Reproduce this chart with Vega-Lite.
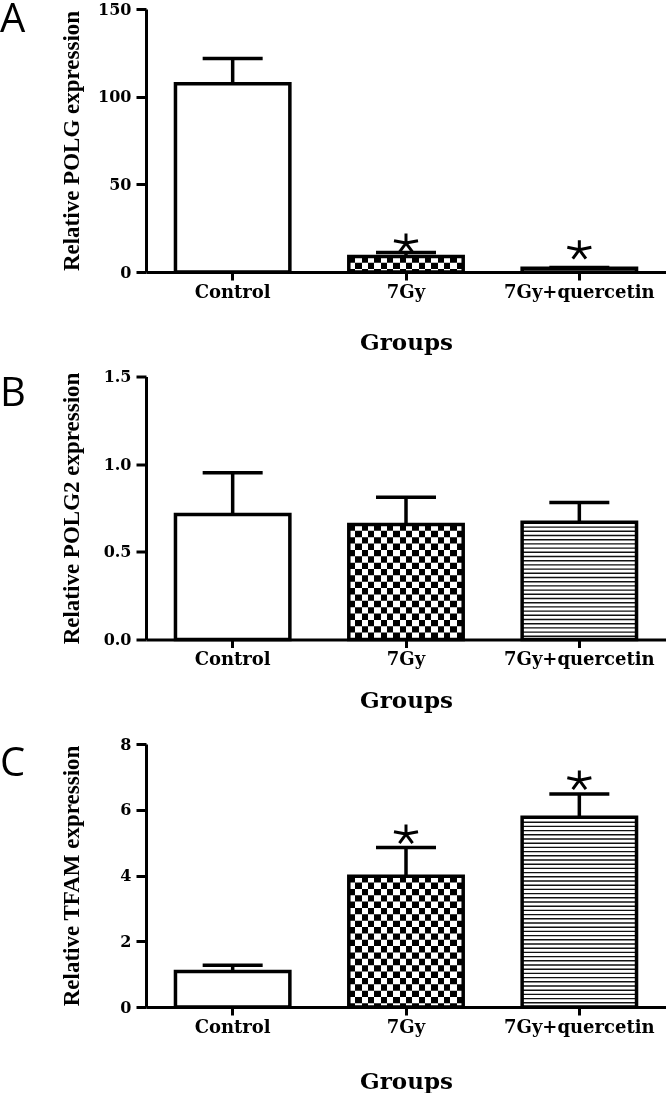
{
"$schema": "https://vega.github.io/schema/vega-lite/v6.json",
"padding": 0,
"background": "white",
"config": {
 "view": {"stroke": null},
 "axis": {"domainColor": "black", "domainWidth": 3, "tickColor": "black", "tickWidth": 3, "labelColor": "black", "titleColor": "black", "grid": false, "labelFont": "DejaVu Serif", "labelFontWeight": "bold"},
 "axisX": {"labelFontSize": 18, "tickSize": 8, "labelAngle": 0, "labelBaseline": "alphabetic", "labelPadding": 17, "titleFont": "DejaVu Serif", "titleFontWeight": "bold", "titleFontSize": 23, "titleBaseline": "alphabetic"},
 "axisY": {"labelFontSize": 16, "tickSize": 10, "labelPadding": 5, "titleFont": "Liberation Serif", "titleFontWeight": "bold", "titleFontSize": 23, "titleX": -68, "titleY": 131.5, "titleAngle": -90, "titleAlign": "center", "titleBaseline": "alphabetic"}
},
"data": {"values": [
 {"panel": "A", "group": "Control", "value": 107.4, "upper": 121.7, "star": null},
 {"panel": "A", "group": "7Gy", "value": 8.9, "upper": 11.1, "star": 16.5},
 {"panel": "A", "group": "7Gy+quercetin", "value": 2.1, "upper": 2.6, "star": 12.7},
 {"panel": "B", "group": "Control", "value": 0.713, "upper": 0.951, "star": null},
 {"panel": "B", "group": "7Gy", "value": 0.656, "upper": 0.812, "star": null},
 {"panel": "B", "group": "7Gy+quercetin", "value": 0.669, "upper": 0.781, "star": null},
 {"panel": "C", "group": "Control", "value": 1.08, "upper": 1.27, "star": null},
 {"panel": "C", "group": "7Gy", "value": 3.98, "upper": 4.85, "star": 5.26},
 {"panel": "C", "group": "7Gy+quercetin", "value": 5.77, "upper": 6.48, "star": 6.9}
]},
"bounds": "flush",
"spacing": 104.5,
"vconcat": [
  {
   "width": 520, "height": 263,
   "transform": [{"filter": "datum.panel === 'A'"}],
   "title": {"text": "A", "anchor": "start", "frame": "group", "orient": "top", "font": "Open Sans", "fontSize": 40, "fontWeight": "normal", "color": "black", "baseline": "alphabetic", "offset": 0, "dx": -146, "dy": 71},
   "encoding": {"x": {"field": "group", "type": "nominal", "sort": ["Control", "7Gy", "7Gy+quercetin"], "scale": {"paddingInner": 0.34, "paddingOuter": 0.17}, "axis": {"title": "Groups", "titleY": 77}}},
   "layer": [
    {"mark": {"type": "bar", "fill": "white", "strokeWidth": 0}, "encoding": {"y": {"field": "value", "type": "quantitative", "scale": {"domain": [0, 150], "nice": false}, "axis": {"title": "Relative POLG expression", "values": [0, 50, 100, 150]}}}},
    {"transform": [{"filter": "datum.group === '7Gy'"}], "mark": {"type": "bar", "strokeWidth": 0, "fill": {"gradient": "linear", "x1": 0, "y1": 0, "x2": 1, "y2": 0, "stops": [{"offset":0,"color":"#fff"},{"offset":0.0556,"color":"#fff"},{"offset":0.0556,"color":"#000"},{"offset":0.1111,"color":"#000"},{"offset":0.1111,"color":"#fff"},{"offset":0.1667,"color":"#fff"},{"offset":0.1667,"color":"#000"},{"offset":0.2222,"color":"#000"},{"offset":0.2222,"color":"#fff"},{"offset":0.2778,"color":"#fff"},{"offset":0.2778,"color":"#000"},{"offset":0.3333,"color":"#000"},{"offset":0.3333,"color":"#fff"},{"offset":0.3889,"color":"#fff"},{"offset":0.3889,"color":"#000"},{"offset":0.4444,"color":"#000"},{"offset":0.4444,"color":"#fff"},{"offset":0.5,"color":"#fff"},{"offset":0.5,"color":"#000"},{"offset":0.5556,"color":"#000"},{"offset":0.5556,"color":"#fff"},{"offset":0.6111,"color":"#fff"},{"offset":0.6111,"color":"#000"},{"offset":0.6667,"color":"#000"},{"offset":0.6667,"color":"#fff"},{"offset":0.7222,"color":"#fff"},{"offset":0.7222,"color":"#000"},{"offset":0.7778,"color":"#000"},{"offset":0.7778,"color":"#fff"},{"offset":0.8333,"color":"#fff"},{"offset":0.8333,"color":"#000"},{"offset":0.8889,"color":"#000"},{"offset":0.8889,"color":"#fff"},{"offset":0.9444,"color":"#fff"},{"offset":0.9444,"color":"#000"},{"offset":1,"color":"#000"}]}}, "encoding": {"y": {"field": "value", "type": "quantitative", "scale": {"domain": [0, 150], "nice": false}, "axis": {"title": "Relative POLG expression", "values": [0, 50, 100, 150]}}}},
    {"transform": [{"filter": "datum.group === '7Gy'"}], "mark": {"type": "rule", "color": "white", "strokeWidth": 114.4, "strokeDash": [6.36, 6.36], "blend": "difference"}, "encoding": {"y": {"field": "value", "type": "quantitative", "scale": {"domain": [0, 150], "nice": false}, "axis": {"title": "Relative POLG expression", "values": [0, 50, 100, 150]}}, "y2": {"datum": 0}}},
    {"transform": [{"filter": "datum.group === '7Gy+quercetin'"}], "mark": {"type": "rule", "color": "#111", "strokeWidth": 114.4, "strokeDash": [1.4, 2.8]}, "encoding": {"y": {"field": "value", "type": "quantitative", "scale": {"domain": [0, 150], "nice": false}, "axis": {"title": "Relative POLG expression", "values": [0, 50, 100, 150]}}, "y2": {"datum": 0}}},
    {"mark": {"type": "bar", "filled": false, "color": "black", "strokeWidth": 3.5}, "encoding": {"y": {"field": "value", "type": "quantitative", "scale": {"domain": [0, 150], "nice": false}, "axis": {"title": "Relative POLG expression", "values": [0, 50, 100, 150]}}}},
    {"mark": {"type": "rule", "color": "black", "strokeWidth": 3.5}, "encoding": {"y": {"field": "value", "type": "quantitative", "scale": {"domain": [0, 150], "nice": false}, "axis": {"title": "Relative POLG expression", "values": [0, 50, 100, 150]}}, "y2": {"field": "upper"}}},
    {"mark": {"type": "tick", "orient": "horizontal", "color": "black", "opacity": 1, "size": 60, "thickness": 3.5}, "encoding": {"y": {"field": "upper", "type": "quantitative", "scale": {"domain": [0, 150], "nice": false}, "axis": {"title": "Relative POLG expression", "values": [0, 50, 100, 150]}}}},
    {"mark": {"type": "point", "shape": "M0,0L0,-0.8M0,0L1,-0.2M0,0L-1,-0.2M0,0L0.55,0.75M0,0L-0.55,0.75", "filled": false, "color": "black", "strokeWidth": 3, "size": 576, "opacity": 1}, "encoding": {"y": {"field": "star", "type": "quantitative", "scale": {"domain": [0, 150], "nice": false}, "axis": {"title": "Relative POLG expression", "values": [0, 50, 100, 150]}}}}
   ]
  },
  {
   "width": 520, "height": 263,
   "transform": [{"filter": "datum.panel === 'B'"}],
   "title": {"text": "B", "anchor": "start", "frame": "group", "orient": "top", "font": "Open Sans", "fontSize": 40, "fontWeight": "normal", "color": "black", "baseline": "alphabetic", "offset": 0, "dx": -146, "dy": 77},
   "encoding": {"x": {"field": "group", "type": "nominal", "sort": ["Control", "7Gy", "7Gy+quercetin"], "scale": {"paddingInner": 0.34, "paddingOuter": 0.17}, "axis": {"title": "Groups", "titleY": 68}}},
   "layer": [
    {"mark": {"type": "bar", "fill": "white", "strokeWidth": 0}, "encoding": {"y": {"field": "value", "type": "quantitative", "scale": {"domain": [0, 1.5], "nice": false}, "axis": {"title": "Relative POLG2 expression", "values": [0, 0.5, 1, 1.5], "format": ".1f"}}}},
    {"transform": [{"filter": "datum.group === '7Gy'"}], "mark": {"type": "bar", "strokeWidth": 0, "fill": {"gradient": "linear", "x1": 0, "y1": 0, "x2": 1, "y2": 0, "stops": [{"offset":0,"color":"#fff"},{"offset":0.0556,"color":"#fff"},{"offset":0.0556,"color":"#000"},{"offset":0.1111,"color":"#000"},{"offset":0.1111,"color":"#fff"},{"offset":0.1667,"color":"#fff"},{"offset":0.1667,"color":"#000"},{"offset":0.2222,"color":"#000"},{"offset":0.2222,"color":"#fff"},{"offset":0.2778,"color":"#fff"},{"offset":0.2778,"color":"#000"},{"offset":0.3333,"color":"#000"},{"offset":0.3333,"color":"#fff"},{"offset":0.3889,"color":"#fff"},{"offset":0.3889,"color":"#000"},{"offset":0.4444,"color":"#000"},{"offset":0.4444,"color":"#fff"},{"offset":0.5,"color":"#fff"},{"offset":0.5,"color":"#000"},{"offset":0.5556,"color":"#000"},{"offset":0.5556,"color":"#fff"},{"offset":0.6111,"color":"#fff"},{"offset":0.6111,"color":"#000"},{"offset":0.6667,"color":"#000"},{"offset":0.6667,"color":"#fff"},{"offset":0.7222,"color":"#fff"},{"offset":0.7222,"color":"#000"},{"offset":0.7778,"color":"#000"},{"offset":0.7778,"color":"#fff"},{"offset":0.8333,"color":"#fff"},{"offset":0.8333,"color":"#000"},{"offset":0.8889,"color":"#000"},{"offset":0.8889,"color":"#fff"},{"offset":0.9444,"color":"#fff"},{"offset":0.9444,"color":"#000"},{"offset":1,"color":"#000"}]}}, "encoding": {"y": {"field": "value", "type": "quantitative", "scale": {"domain": [0, 1.5], "nice": false}, "axis": {"title": "Relative POLG2 expression", "values": [0, 0.5, 1, 1.5], "format": ".1f"}}}},
    {"transform": [{"filter": "datum.group === '7Gy'"}], "mark": {"type": "rule", "color": "white", "strokeWidth": 114.4, "strokeDash": [6.36, 6.36], "blend": "difference"}, "encoding": {"y": {"field": "value", "type": "quantitative", "scale": {"domain": [0, 1.5], "nice": false}, "axis": {"title": "Relative POLG2 expression", "values": [0, 0.5, 1, 1.5], "format": ".1f"}}, "y2": {"datum": 0}}},
    {"transform": [{"filter": "datum.group === '7Gy+quercetin'"}], "mark": {"type": "rule", "color": "#111", "strokeWidth": 114.4, "strokeDash": [1.4, 2.8]}, "encoding": {"y": {"field": "value", "type": "quantitative", "scale": {"domain": [0, 1.5], "nice": false}, "axis": {"title": "Relative POLG2 expression", "values": [0, 0.5, 1, 1.5], "format": ".1f"}}, "y2": {"datum": 0}}},
    {"mark": {"type": "bar", "filled": false, "color": "black", "strokeWidth": 3.5}, "encoding": {"y": {"field": "value", "type": "quantitative", "scale": {"domain": [0, 1.5], "nice": false}, "axis": {"title": "Relative POLG2 expression", "values": [0, 0.5, 1, 1.5], "format": ".1f"}}}},
    {"mark": {"type": "rule", "color": "black", "strokeWidth": 3.5}, "encoding": {"y": {"field": "value", "type": "quantitative", "scale": {"domain": [0, 1.5], "nice": false}, "axis": {"title": "Relative POLG2 expression", "values": [0, 0.5, 1, 1.5], "format": ".1f"}}, "y2": {"field": "upper"}}},
    {"mark": {"type": "tick", "orient": "horizontal", "color": "black", "opacity": 1, "size": 60, "thickness": 3.5}, "encoding": {"y": {"field": "upper", "type": "quantitative", "scale": {"domain": [0, 1.5], "nice": false}, "axis": {"title": "Relative POLG2 expression", "values": [0, 0.5, 1, 1.5], "format": ".1f"}}}}
   ]
  },
 {
  "width": 520, "height": 263,
  "transform": [{"filter": "datum.panel === 'C'"}],
  "title": {"text": "C", "anchor": "start", "frame": "group", "orient": "top", "font": "Open Sans", "fontSize": 40, "fontWeight": "normal", "color": "black", "baseline": "alphabetic", "offset": 0, "dx": -146, "dy": 80},
  "encoding": {"x": {"field": "group", "type": "nominal", "sort": ["Control", "7Gy", "7Gy+quercetin"], "scale": {"paddingInner": 0.34, "paddingOuter": 0.17}, "axis": {"title": "Groups", "titleY": 81}}},
  "layer": [
   {"mark": {"type": "bar", "fill": "white", "strokeWidth": 0}, "encoding": {"y": {"field": "value", "type": "quantitative", "scale": {"domain": [0, 8], "nice": false}, "axis": {"title": "Relative TFAM expression", "values": [0, 2, 4, 6, 8]}}}},
   {"transform": [{"filter": "datum.group === '7Gy'"}], "mark": {"type": "bar", "strokeWidth": 0, "fill": {"gradient": "linear", "x1": 0, "y1": 0, "x2": 1, "y2": 0, "stops": [{"offset":0,"color":"#fff"},{"offset":0.0556,"color":"#fff"},{"offset":0.0556,"color":"#000"},{"offset":0.1111,"color":"#000"},{"offset":0.1111,"color":"#fff"},{"offset":0.1667,"color":"#fff"},{"offset":0.1667,"color":"#000"},{"offset":0.2222,"color":"#000"},{"offset":0.2222,"color":"#fff"},{"offset":0.2778,"color":"#fff"},{"offset":0.2778,"color":"#000"},{"offset":0.3333,"color":"#000"},{"offset":0.3333,"color":"#fff"},{"offset":0.3889,"color":"#fff"},{"offset":0.3889,"color":"#000"},{"offset":0.4444,"color":"#000"},{"offset":0.4444,"color":"#fff"},{"offset":0.5,"color":"#fff"},{"offset":0.5,"color":"#000"},{"offset":0.5556,"color":"#000"},{"offset":0.5556,"color":"#fff"},{"offset":0.6111,"color":"#fff"},{"offset":0.6111,"color":"#000"},{"offset":0.6667,"color":"#000"},{"offset":0.6667,"color":"#fff"},{"offset":0.7222,"color":"#fff"},{"offset":0.7222,"color":"#000"},{"offset":0.7778,"color":"#000"},{"offset":0.7778,"color":"#fff"},{"offset":0.8333,"color":"#fff"},{"offset":0.8333,"color":"#000"},{"offset":0.8889,"color":"#000"},{"offset":0.8889,"color":"#fff"},{"offset":0.9444,"color":"#fff"},{"offset":0.9444,"color":"#000"},{"offset":1,"color":"#000"}]}}, "encoding": {"y": {"field": "value", "type": "quantitative", "scale": {"domain": [0, 8], "nice": false}, "axis": {"title": "Relative TFAM expression", "values": [0, 2, 4, 6, 8]}}}},
   {"transform": [{"filter": "datum.group === '7Gy'"}], "mark": {"type": "rule", "color": "white", "strokeWidth": 114.4, "strokeDash": [6.36, 6.36], "blend": "difference"}, "encoding": {"y": {"field": "value", "type": "quantitative", "scale": {"domain": [0, 8], "nice": false}, "axis": {"title": "Relative TFAM expression", "values": [0, 2, 4, 6, 8]}}, "y2": {"datum": 0}}},
   {"transform": [{"filter": "datum.group === '7Gy+quercetin'"}], "mark": {"type": "rule", "color": "#111", "strokeWidth": 114.4, "strokeDash": [1.4, 2.8]}, "encoding": {"y": {"field": "value", "type": "quantitative", "scale": {"domain": [0, 8], "nice": false}, "axis": {"title": "Relative TFAM expression", "values": [0, 2, 4, 6, 8]}}, "y2": {"datum": 0}}},
   {"mark": {"type": "bar", "filled": false, "color": "black", "strokeWidth": 3.5}, "encoding": {"y": {"field": "value", "type": "quantitative", "scale": {"domain": [0, 8], "nice": false}, "axis": {"title": "Relative TFAM expression", "values": [0, 2, 4, 6, 8]}}}},
   {"mark": {"type": "rule", "color": "black", "strokeWidth": 3.5}, "encoding": {"y": {"field": "value", "type": "quantitative", "scale": {"domain": [0, 8], "nice": false}, "axis": {"title": "Relative TFAM expression", "values": [0, 2, 4, 6, 8]}}, "y2": {"field": "upper"}}},
   {"mark": {"type": "tick", "orient": "horizontal", "color": "black", "opacity": 1, "size": 60, "thickness": 3.5}, "encoding": {"y": {"field": "upper", "type": "quantitative", "scale": {"domain": [0, 8], "nice": false}, "axis": {"title": "Relative TFAM expression", "values": [0, 2, 4, 6, 8]}}}},
   {"mark": {"type": "point", "shape": "M0,0L0,-0.8M0,0L1,-0.2M0,0L-1,-0.2M0,0L0.55,0.75M0,0L-0.55,0.75", "filled": false, "color": "black", "strokeWidth": 3, "size": 576, "opacity": 1}, "encoding": {"y": {"field": "star", "type": "quantitative", "scale": {"domain": [0, 8], "nice": false}, "axis": {"title": "Relative TFAM expression", "values": [0, 2, 4, 6, 8]}}}}
  ]
 }
]
}
